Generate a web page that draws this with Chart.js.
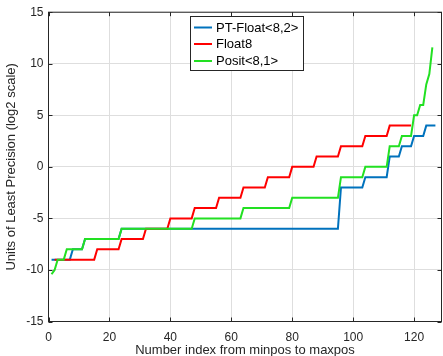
<!DOCTYPE html>
<html><head><meta charset="utf-8">
<script src="https://cdn.jsdelivr.net/npm/chart.js@4/dist/chart.umd.min.js"></script>
<style>html,body{margin:0;padding:0;background:#fff;}#wrap{width:443px;height:356px;position:relative;}</style>
</head><body><div id="wrap"><canvas id="c" width="443" height="356"></canvas></div>
<script>
const seriesNames = ['PT-Float<8,2>', 'Float8', 'Posit<8,1>'];
const seriesColors = ['#0072bd', '#ff0000', '#22e022'];
const xTickLabels = [0, 20, 40, 60, 80, 100, 120];
const yTickLabels = [-15, -10, -5, 0, 5, 10, 15];
const xTitle = 'Number index from minpos to maxpos';
const yTitle = 'Units of Least Precision (log2 scale)';

// PT-Float<8,2>, indices 1..127
const ptFloatStart = 1;
const ptFloatULP = [
  -9,-9,-9,-9,-9,-9,-9,
  -8,-8,-8,-8,
  -7,-7,-7,-7,-7,-7,-7,-7,-7,-7,-7,-7,
  -6,-6,-6,-6,-6,-6,-6,-6,-6,-6,-6,-6,
  -6,-6,-6,-6,-6,-6,-6,-6,-6,-6,-6,-6,
  -6,-6,-6,-6,-6,-6,-6,-6,-6,-6,-6,-6,
  -6,-6,-6,-6,-6,-6,-6,-6,-6,-6,-6,-6,
  -6,-6,-6,-6,-6,-6,-6,-6,-6,-6,-6,-6,
  -6,-6,-6,-6,-6,-6,-6,-6,-6,-6,-6,-6,
  -2,-2,-2,-2,-2,-2,-2,-2,
  -1,-1,-1,-1,-1,-1,-1,-1,
  1,1,1,1,
  2,2,2,2,
  3,3,3,3,
  4,4,4,4
];

// Float8, indices 2..119
const float8Start = 2;
const float8ULP = [
  -9,-9,-9,-9,-9,-9,-9,-9,-9,-9,-9,-9,-9,-9,
  -8,-8,-8,-8,-8,-8,-8,-8,
  -7,-7,-7,-7,-7,-7,-7,-7,
  -6,-6,-6,-6,-6,-6,-6,-6,
  -5,-5,-5,-5,-5,-5,-5,-5,
  -4,-4,-4,-4,-4,-4,-4,-4,
  -3,-3,-3,-3,-3,-3,-3,-3,
  -2,-2,-2,-2,-2,-2,-2,-2,
  -1,-1,-1,-1,-1,-1,-1,-1,
  0,0,0,0,0,0,0,0,
  1,1,1,1,1,1,1,1,
  2,2,2,2,2,2,2,2,
  3,3,3,3,3,3,3,3,
  4,4,4,4,4,4,4,4
];

// Posit<8,1>, indices 1..126
const positStart = 1;
const positULP = [
  -10.42, -10,
  -9,-9,-9,
  -8,-8,-8,-8,-8,-8,
  -7,-7,-7,-7,-7,-7,-7,-7,-7,-7,-7,-7,
  -6,-6,-6,-6,-6,-6,-6,-6,-6,-6,-6,-6,
  -6,-6,-6,-6,-6,-6,-6,-6,-6,-6,-6,-6,
  -5,-5,-5,-5,-5,-5,-5,-5,-5,-5,-5,-5,-5,-5,-5,-5,
  -4,-4,-4,-4,-4,-4,-4,-4,-4,-4,-4,-4,-4,-4,-4,-4,
  -3,-3,-3,-3,-3,-3,-3,-3,-3,-3,-3,-3,-3,-3,-3,-3,
  -1,-1,-1,-1,-1,-1,-1,-1,
  0,0,0,0,0,0,0,0,
  2,2,2,2,
  3,3,3,3,
  5,5,
  6,6,
  8, 9, 11.58
];

function toPoints(start, vals) { return vals.map((v, i) => ({x: start + i, y: v})); }

const FONT = 'Liberation Sans, Arial, Helvetica, sans-serif';
const AXC = '#262626';

const framePlugin = {
  id: 'frame',
  afterDraw(chart) {
    const {ctx, chartArea: a, scales: {x, y}} = chart;
    ctx.save();
    ctx.strokeStyle = AXC; ctx.lineWidth = 1;
    ctx.strokeRect(a.left, a.top, a.right - a.left, a.bottom - a.top);
    ctx.beginPath();
    xTickLabels.forEach(v => {
      const p = Math.round(x.getPixelForValue(v)) + 0.5;
      ctx.moveTo(p, a.bottom); ctx.lineTo(p, a.bottom - 4);
      ctx.moveTo(p, a.top); ctx.lineTo(p, a.top + 4);
    });
    yTickLabels.forEach(v => {
      const p = Math.round(y.getPixelForValue(v)) + 0.5;
      ctx.moveTo(a.left, p); ctx.lineTo(a.left + 4, p);
      ctx.moveTo(a.right, p); ctx.lineTo(a.right - 4, p);
    });
    ctx.stroke();
    // legend
    const lx = 190.5, ly = 16.5, lw = 113, lh = 54;
    ctx.fillStyle = '#fff';
    ctx.fillRect(lx, ly, lw, lh);
    ctx.strokeStyle = AXC;
    ctx.strokeRect(lx, ly, lw, lh);
    ctx.font = '13px ' + FONT;
    ctx.textBaseline = 'middle';
    ctx.textAlign = 'left';
    const rows = [27.5, 44, 61];
    chart.data.datasets.forEach((d, i) => {
      ctx.strokeStyle = d.borderColor; ctx.lineWidth = 2;
      ctx.beginPath(); ctx.moveTo(194, rows[i]); ctx.lineTo(212, rows[i]); ctx.stroke();
      ctx.fillStyle = '#000';
      ctx.fillText(d.label, 216, rows[i] + 0.5);
    });
    ctx.restore();
  }
};

new Chart(document.getElementById('c'), {
  type: 'line',
  data: {
    datasets: [
      {label: seriesNames[0], data: toPoints(ptFloatStart, ptFloatULP), borderColor: seriesColors[0], order: 3},
      {label: seriesNames[1], data: toPoints(float8Start, float8ULP), borderColor: seriesColors[1], order: 2},
      {label: seriesNames[2], data: toPoints(positStart, positULP), borderColor: seriesColors[2], order: 1}
    ]
  },
  options: {
    responsive: false,
    devicePixelRatio: 1,
    animation: false,
    elements: {point: {radius: 0}, line: {borderWidth: 2, tension: 0, fill: false}},
    layout: {padding: {top: 11.5, right: 1.5, left: 0, bottom: 0}},
    plugins: {legend: {display: false}, tooltip: {enabled: false}},
    scales: {
      x: {
        type: 'linear', min: 0, max: 129,
        afterBuildTicks: s => { s.ticks = xTickLabels.map(v => ({value: v})); },
        afterFit: s => { s.height = 34.5; },
        grid: {color: '#dedede', drawTicks: false},
        border: {display: false},
        ticks: {font: {family: FONT, size: 12}, color: AXC, padding: 9, maxRotation: 0},
        title: {display: true, text: xTitle, font: {family: FONT, size: 13, lineHeight: 0.9}, color: AXC, padding: {top: 0, bottom: 0}}
      },
      y: {
        type: 'linear', min: -15, max: 15,
        afterBuildTicks: s => { s.ticks = yTickLabels.map(v => ({value: v})); },
        afterFit: s => { s.width = 48.5; },
        grid: {color: '#dedede', drawTicks: false},
        border: {display: false},
        ticks: {font: {family: FONT, size: 12}, color: AXC, padding: 5},
        title: {display: true, text: yTitle, font: {family: FONT, size: 13}, color: AXC, padding: {top: 4, bottom: 0}}
      }
    }
  },
  plugins: [framePlugin]
});
</script></body></html>
